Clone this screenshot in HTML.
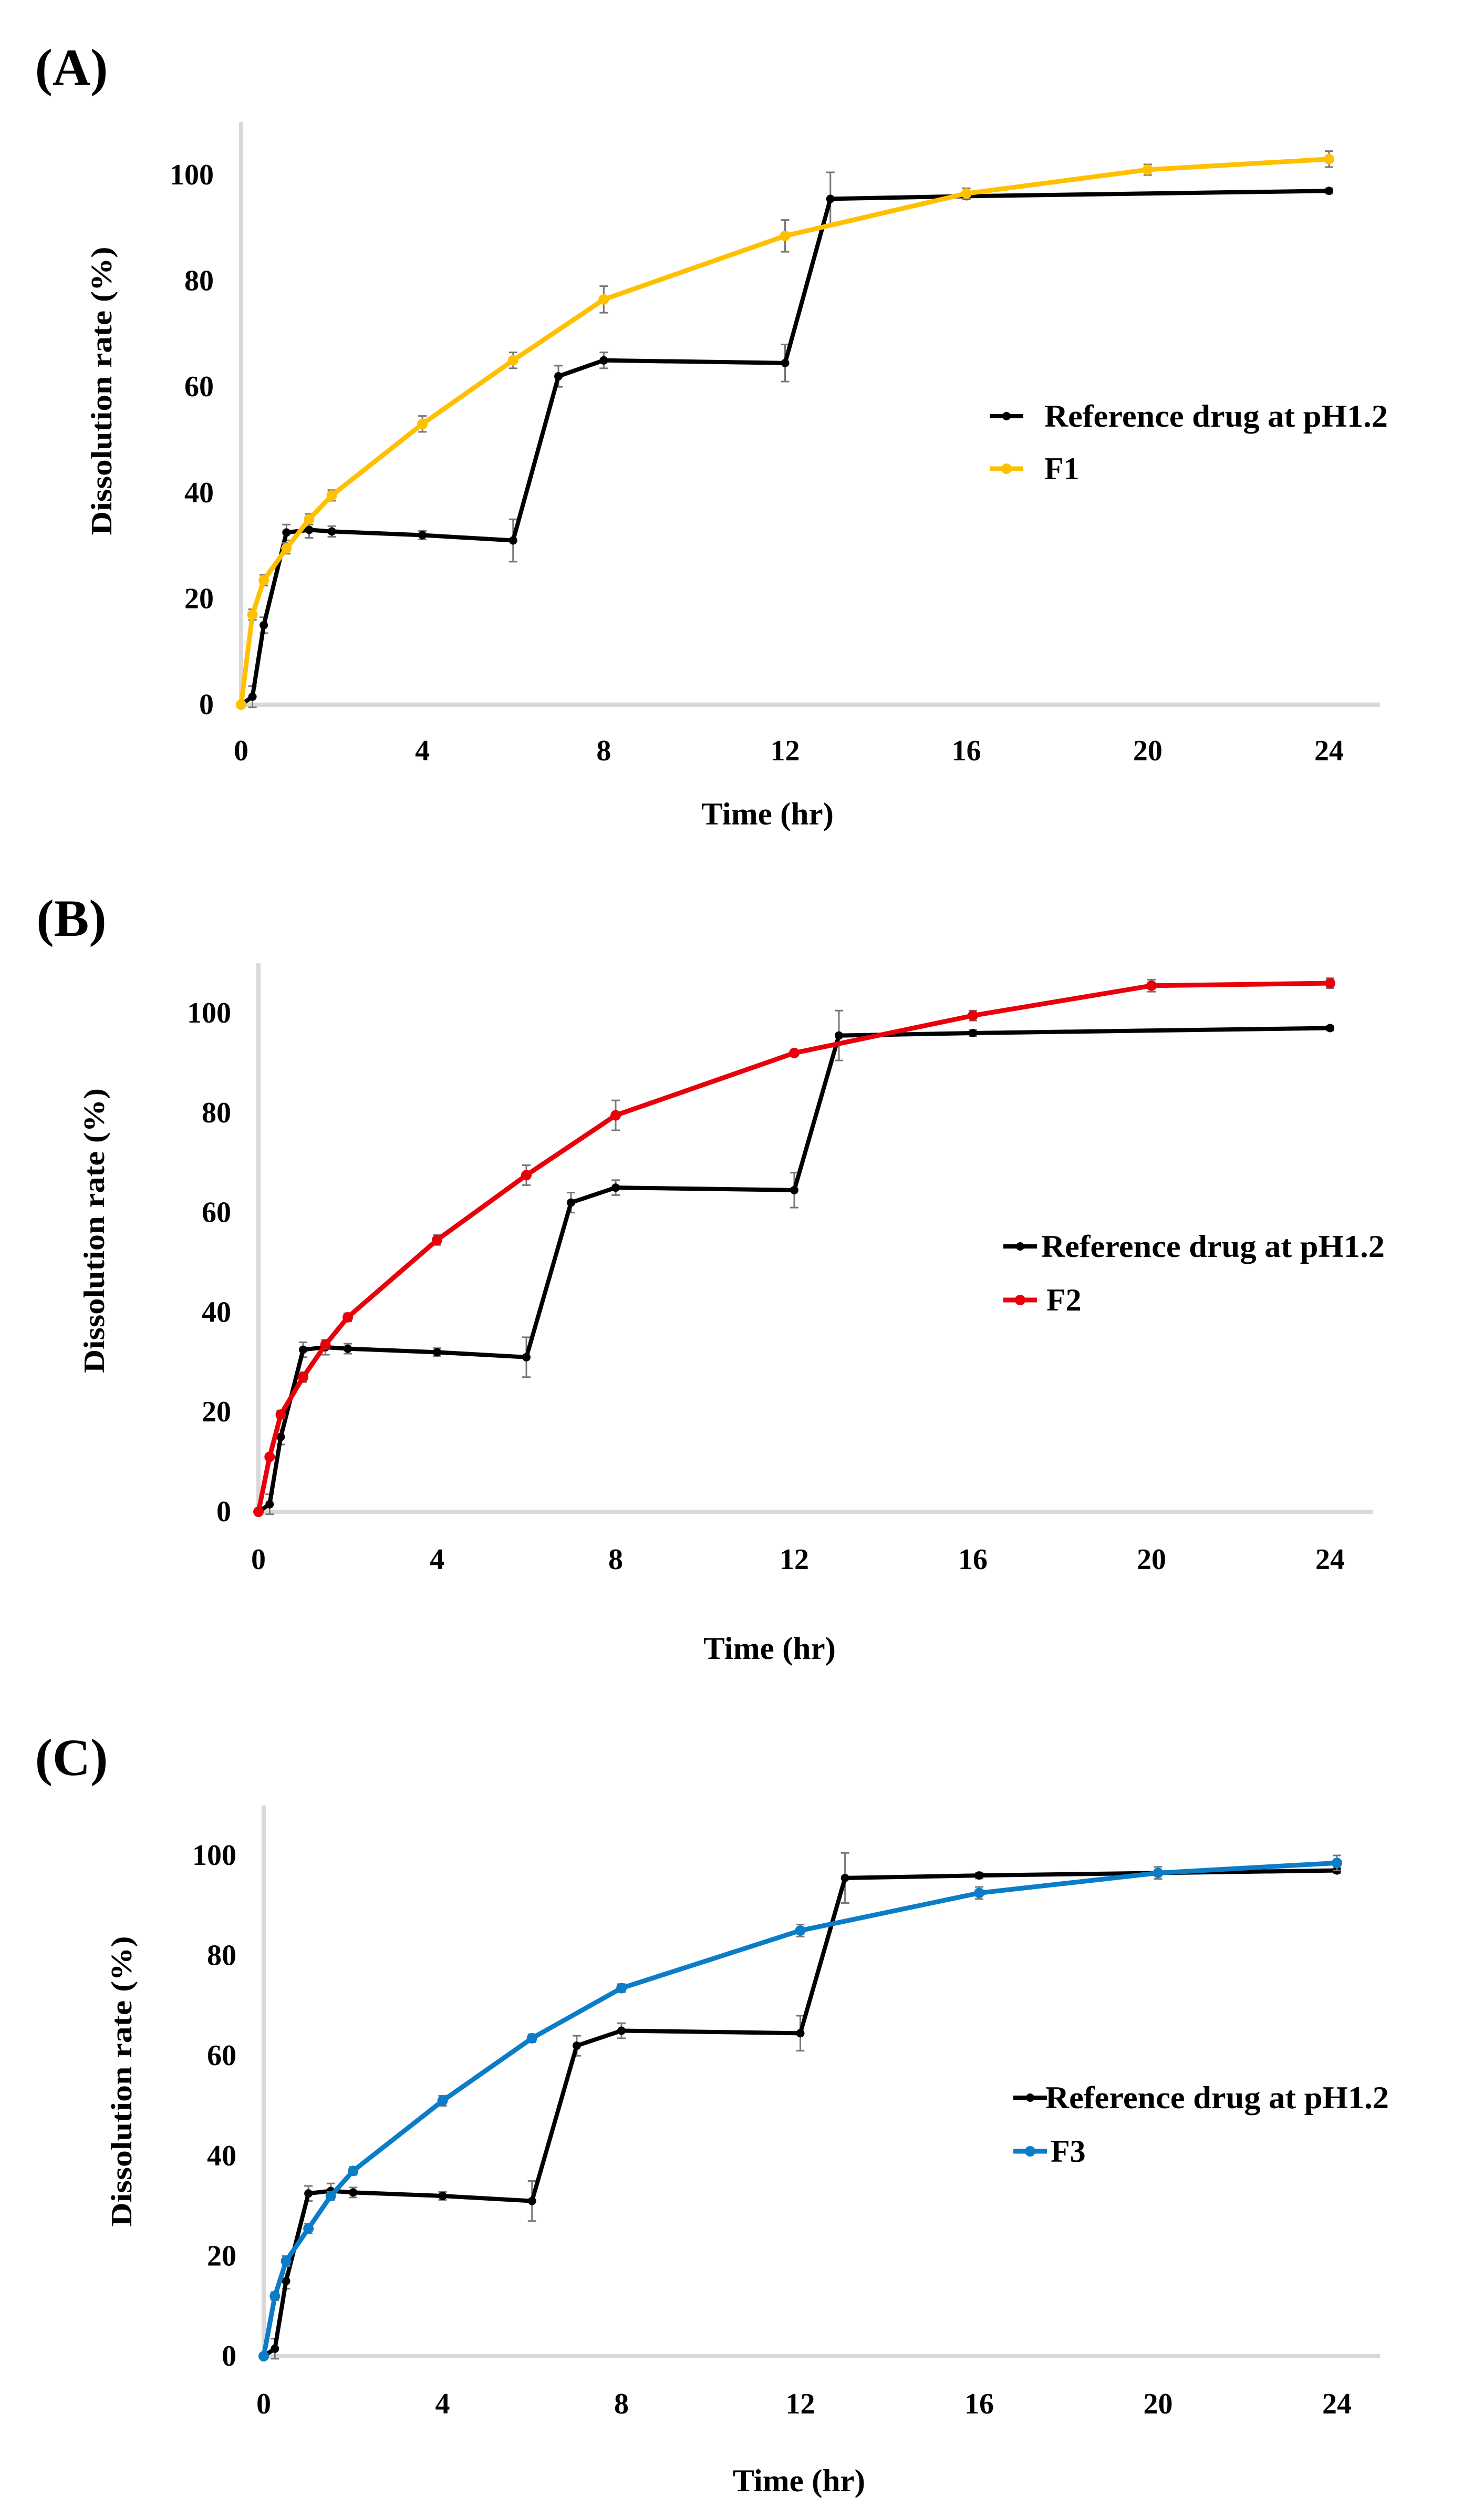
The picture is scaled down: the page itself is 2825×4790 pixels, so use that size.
<!DOCTYPE html>
<html><head><meta charset="utf-8"><style>
html,body{margin:0;padding:0;background:#fff;}
svg{display:block;font-family:"Liberation Serif",serif;font-weight:bold;}
</style></head><body>
<svg id="fig" width="2825" height="4790" viewBox="0 0 2825 4790"></svg>
<script>
const refTimes=[0,0.25,0.5,1,1.5,2,4,6,7,8,12,13,16,24];
const refValues=[0,1.5,15,32.5,33,32.7,32,31,62,65,64.5,95.5,96,97];
const refErrors=[0,2,1.5,1.5,1.5,1,0.8,4,2,1.5,3.5,5,0.6,0.5];
const fTimes=[0,0.25,0.5,1,1.5,2,4,6,8,12,16,20,24];
const f1Values=[0,17,23.5,29.5,35,39.5,53,65,76.5,88.5,96.5,101,103];
const f1Errors=[0,1,1,1,1,1,1.5,1.5,2.5,3,1,1,1.5];
const f2Values=[0,11,19.5,27,33.5,39,54.5,67.5,79.5,92,99.5,105.5,106];
const f2Errors=[0,0.5,0.8,1,0.8,0.8,1,2,3,0.5,1,1.2,1];
const f3Values=[0,12,19,25.5,32,37,51,63.5,73.5,85,92.5,96.5,98.5];
const f3Errors=[0,0.8,1,1,0.8,0.8,1,0.8,0.8,1.2,1.2,1.2,1.5];
const xTicks=[0,4,8,12,16,20,24];
const yTicks=[0,20,40,60,80,100];
const seriesNames=["F1","F2","F3"];
const panelLabels=["(A)","(B)","(C)"];

const NS="http://www.w3.org/2000/svg";
const svg=document.getElementById('fig');
function mk(tag,attrs,parent,text){const e=document.createElementNS(NS,tag);for(const k in attrs)e.setAttribute(k,attrs[k]);if(text!==undefined)e.textContent=text;(parent||svg).appendChild(e);return e;}

const panels=[
 {x0:459,x24:2530,y0:1341,y100:333,axRight:2627,lab:[136,128],tickY:1427,titleX:1461,titleY:1549,ytX:194,ytY:744,ytLen:549,legX:1884,legTextX:1988,legY1:792,legY2:892,vals:f1Values,errs:f1Errors,color:"#FFC000"},
 {x0:492,x24:2532,y0:2877,y100:1928,axRight:2613,lab:[136,1747],tickY:2966,titleX:1465,titleY:3137,ytX:180,ytY:2342,ytLen:542,legX:1910,legTextX:1982,legY1:2372,legY2:2474,vals:f2Values,errs:f2Errors,color:"#E8000B"},
 {x0:502,x24:2545,y0:4484,y100:3531,axRight:2627,lab:[136,3344],tickY:4573,titleX:1521,titleY:4721,ytX:232,ytY:3961,ytLen:553,legX:1929,legTextX:1990,legY1:3992,legY2:4094,vals:f3Values,errs:f3Errors,color:"#0A7CC8"}
];

panels.forEach((p,i)=>{
 const g=mk('g',{});
 
 
 const X=t=>p.x0+(p.x24-p.x0)*t/24;
 const Y=v=>p.y0-(p.y0-p.y100)*v/100;
 const lbl=mk('text',{x:p.lab[0],y:p.lab[1]+34,'font-size':100,'text-anchor':'middle'},g,panelLabels[i]);
 
 
 const ya=mk('line',{x1:p.x0,y1:Y(110),x2:p.x0,y2:p.y0,stroke:'#d9d9d9','stroke-width':8},g);
 
 
 const xa=mk('line',{x1:p.x0,y1:p.y0,x2:p.axRight,y2:p.y0,stroke:'#d9d9d9','stroke-width':8},g);
 
 
 yTicks.forEach(v=>{const t=mk('text',{x:p.x0-52,y:Y(v)+18,'font-size':56,'text-anchor':'end',textLength:String(v).length*28,lengthAdjust:'spacingAndGlyphs'},g,String(v));
  
  });
 xTicks.forEach(v=>{const t=mk('text',{x:X(v),y:p.tickY+20,'font-size':56,'text-anchor':'middle',textLength:String(v).length*28,lengthAdjust:'spacingAndGlyphs'},g,String(v));
  
  });
 const xt=mk('text',{x:p.titleX,y:p.titleY+20,'font-size':60,'text-anchor':'middle',textLength:252,lengthAdjust:'spacingAndGlyphs'},g,'Time (hr)');
 
 
 const yt=mk('text',{x:0,y:0,'font-size':56,'text-anchor':'middle',transform:`translate(${p.ytX+18},${p.ytY}) rotate(-90)`,textLength:p.ytLen,lengthAdjust:'spacingAndGlyphs'},g,'Dissolution rate (%)');
 
 
 function series(times,vals,errs,color,w,r,name){
  const sg=mk('g',{},g);
  
  
  times.forEach((t,k)=>{if(errs[k]>0){const e=mk('path',{d:`M${X(t)},${Y(vals[k]+errs[k])}V${Y(vals[k]-errs[k])}M${X(t)-8},${Y(vals[k]+errs[k])}h16M${X(t)-8},${Y(vals[k]-errs[k])}h16`,stroke:'#777','stroke-width':3,fill:'none'},sg);
   
   }});
  const pl=mk('polyline',{points:times.map((t,k)=>X(t)+','+Y(vals[k])).join(' '),fill:'none',stroke:color,'stroke-width':w,'stroke-linejoin':'round'},sg);
  
  
  times.forEach((t,k)=>{const c=mk('circle',{cx:X(t),cy:Y(vals[k]),r:r,fill:color},sg);
   
   });
 }
 series(refTimes,refValues,refErrors,'#000',8,8,'reference-series');
 series(fTimes,p.vals,p.errs,p.color,9,10,'formulation-series');
 const l1=mk('g',{},g);
 
 
 mk('line',{x1:p.legX,y1:p.legY1,x2:p.legX+64,y2:p.legY1,stroke:'#000','stroke-width':8},l1);
 mk('circle',{cx:p.legX+32,cy:p.legY1,r:8,fill:'#000'},l1);
 mk('text',{x:p.legTextX,y:p.legY1+20,'font-size':60,textLength:654,lengthAdjust:'spacingAndGlyphs'},l1,'Reference drug at pH1.2');
 const l2=mk('g',{},g);
 
 
 mk('line',{x1:p.legX,y1:p.legY2,x2:p.legX+64,y2:p.legY2,stroke:p.color,'stroke-width':9},l2);
 mk('circle',{cx:p.legX+32,cy:p.legY2,r:10,fill:p.color},l2);
 mk('text',{x:p.legTextX+(i?10:0),y:p.legY2+20,'font-size':60},l2,seriesNames[i]);
});
</script>
</body></html>
